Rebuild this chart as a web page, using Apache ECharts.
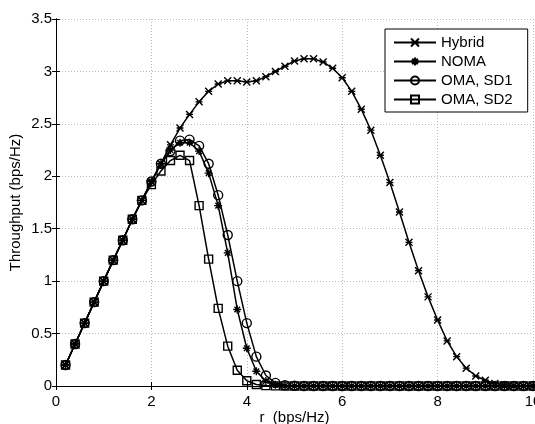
<!DOCTYPE html>
<html>
<head>
<meta charset="utf-8">
<script src="https://cdn.jsdelivr.net/npm/echarts@6/dist/echarts.min.js"></script>
<style>html,body{margin:0;padding:0;background:#fff;}#c{width:535px;height:424px;}</style>
</head>
<body>
<div id="c"></div>
<script>
// r values (bps/Hz)
const rValues = [0.2,0.4,0.6,0.8,1.0,1.2,1.4,1.6,1.8,2.0,
  2.2,2.4,2.6,2.8,3.0,3.2,3.4,3.6,3.8,4.0,
  4.2,4.4,4.6,4.8,5.0,5.2,5.4,5.6,5.8,6.0,
  6.2,6.4,6.6,6.8,7.0,7.2,7.4,7.6,7.8,8.0,
  8.2,8.4,8.6,8.8,9.0,9.2,9.4,9.6,9.8,10.0];

const hybrid = [0.2,0.4,0.6,0.8,1.0,1.2,1.39,1.59,1.77,1.95,
  2.12,2.30,2.46,2.59,2.71,2.81,2.88,2.91,2.91,2.90,
  2.91,2.95,3.00,3.05,3.10,3.12,3.12,3.09,3.03,2.94,
  2.81,2.64,2.44,2.20,1.94,1.66,1.37,1.10,0.85,0.63,
  0.43,0.28,0.17,0.095,0.055,0.025,0.01,0.004,0.001,0];

const noma = [0.2,0.4,0.6,0.8,1.0,1.2,1.39,1.59,1.77,1.95,
  2.12,2.25,2.32,2.32,2.24,2.03,1.72,1.27,0.73,0.36,
  0.14,0.048,0.012,0.003,0,0,0,0,0,0,
  0,0,0,0,0,0,0,0,0,0,
  0,0,0,0,0,0,0,0,0,0];

const omaSD1 = [0.2,0.4,0.6,0.8,1.0,1.2,1.39,1.59,1.77,1.95,
  2.12,2.24,2.34,2.35,2.29,2.12,1.82,1.44,1.00,0.60,
  0.28,0.10,0.03,0.008,0.002,0,0,0,0,0,
  0,0,0,0,0,0,0,0,0,0,
  0,0,0,0,0,0,0,0,0,0];

const omaSD2 = [0.2,0.4,0.6,0.8,1.0,1.2,1.39,1.59,1.77,1.92,
  2.05,2.15,2.20,2.15,1.72,1.21,0.74,0.38,0.15,0.05,
  0.015,0.004,0.001,0,0,0,0,0,0,0,
  0,0,0,0,0,0,0,0,0,0,
  0,0,0,0,0,0,0,0,0,0];

const seriesNames = ['Hybrid','NOMA','OMA, SD1','OMA, SD2'];
const xTicks = [0,2,4,6,8,10];
const yTicks = [0,0.5,1,1.5,2,2.5,3,3.5];

const FONT = 'Liberation Sans, Arial, sans-serif';
const crossPath = 'path://M0,0L10,10M10,0L0,10M0,5L10,5';
const starPath = 'path://M5,0L5,10M0,5L10,5M1.5,1.5L8.5,8.5M8.5,1.5L1.5,8.5';

function pairs(ys){ return rValues.map((r,i)=>[r, ys[i]]); }

function mkSeries(name, ys, symbol, size, fillNone){
  return {
    name: name, type: 'line', data: pairs(ys),
    symbol: symbol, symbolSize: size, showAllSymbol: true,
    lineStyle: {color:'#000', width:1.5},
    itemStyle: {color: fillNone ? 'rgba(0,0,0,0)' : '#000', borderColor:'#000', borderWidth:1.4},
    emphasis: {disabled:true},
    z: 3
  };
}

const chart = echarts.init(document.getElementById('c'), null, {renderer:'canvas'});
const axisCommonX = {
  type:'value', min:xTicks[0], max:xTicks[xTicks.length-1], interval:2
};
const axisCommonY = {
  type:'value', min:yTicks[0], max:yTicks[yTicks.length-1], interval:0.5
};
chart.setOption({
  animation:false,
  backgroundColor:'#fff',
  grid:{left:56, right:2, top:19, bottom:38, containLabel:false, outerBoundsMode:'none'},
  legend:{
    data: seriesNames, orient:'vertical', left:385, top:29,
    backgroundColor:'#fff', borderColor:'#000', borderWidth:1,
    padding:[6,15,5,8], itemWidth:42, itemHeight:10, itemGap:4,
    textStyle:{fontFamily:FONT, fontSize:15, color:'#000'}
  },
  xAxis:[
    Object.assign({}, axisCommonX, {
      position:'bottom',
      name:'r  (bps/Hz)', nameLocation:'middle', nameGap:24, nameMoveOverlap:false,
      nameTextStyle:{fontFamily:FONT, fontSize:15, color:'#000'},
      axisLine:{show:true, lineStyle:{color:'#000', width:1}},
      axisTick:{show:true, inside:true, length:4, lineStyle:{color:'#000'}},
      axisLabel:{fontFamily:FONT, fontSize:15, color:'#000', margin:8},
      splitLine:{show:true, lineStyle:{color:'#b8b8b8', type:[1,2], width:1}}
    }),
    Object.assign({}, axisCommonX, {
      position:'top',
      axisLine:{show:true, lineStyle:{color:'#000', width:1}},
      axisTick:{show:true, inside:true, length:4, lineStyle:{color:'#000'}},
      axisLabel:{show:false}, splitLine:{show:false}
    })
  ],
  yAxis:[
    Object.assign({}, axisCommonY, {
      position:'left',
      name:'Throughput (bps/Hz)', nameLocation:'middle', nameGap:33, nameMoveOverlap:false,
      nameTextStyle:{fontFamily:FONT, fontSize:15, color:'#000'},
      axisLine:{show:true, lineStyle:{color:'#000', width:1}},
      axisTick:{show:true, inside:true, length:4, lineStyle:{color:'#000'}},
      axisLabel:{fontFamily:FONT, fontSize:15, color:'#000', margin:4},
      splitLine:{show:true, lineStyle:{color:'#b8b8b8', type:[1,2], width:1}}
    }),
    Object.assign({}, axisCommonY, {
      position:'right',
      axisLine:{show:true, lineStyle:{color:'#000', width:1}},
      axisTick:{show:true, inside:true, length:4, lineStyle:{color:'#000'}},
      axisLabel:{show:false}, splitLine:{show:false}
    })
  ],
  series:[
    mkSeries(seriesNames[0], hybrid, crossPath, 7, false),
    mkSeries(seriesNames[1], noma, starPath, 8, false),
    mkSeries(seriesNames[2], omaSD1, 'circle', 9, true),
    mkSeries(seriesNames[3], omaSD2, 'rect', 8, true)
  ]
});
</script>
</body>
</html>
